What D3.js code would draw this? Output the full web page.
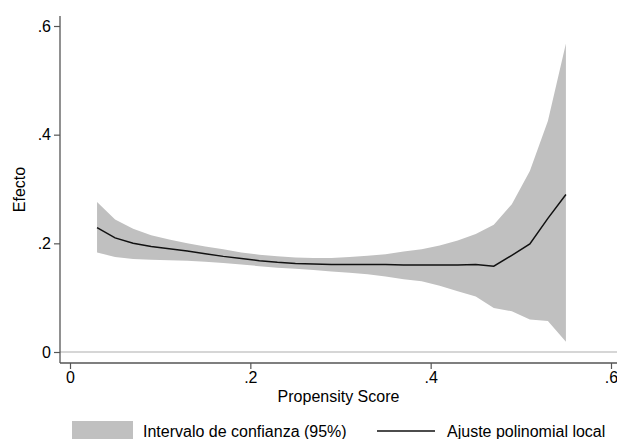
<!DOCTYPE html>
<html>
<head>
<meta charset="utf-8">
<script src="https://cdn.jsdelivr.net/npm/d3@7"></script>
<style>
  body { margin: 0; background: #fff; }
  text { font-family: "Liberation Sans", Arial, sans-serif; fill: #000; }
</style>
</head>
<body>
<svg width="617" height="439"></svg>
<script>
// data
var score = [0.03, 0.05, 0.07, 0.09, 0.11, 0.13, 0.15, 0.17, 0.19, 0.21, 0.23, 0.25, 0.27, 0.29,
             0.31, 0.33, 0.35, 0.37, 0.39, 0.41, 0.43, 0.45, 0.47, 0.49, 0.51, 0.53, 0.55];
var fit = [0.229, 0.210, 0.200, 0.194, 0.190, 0.186, 0.181, 0.176, 0.172, 0.168, 0.165, 0.163, 0.162, 0.161,
           0.161, 0.161, 0.161, 0.160, 0.160, 0.160, 0.160, 0.161, 0.158, 0.178, 0.199, 0.246, 0.290];
var upper = [0.276, 0.244, 0.227, 0.215, 0.207, 0.200, 0.194, 0.189, 0.183, 0.179, 0.176, 0.174, 0.173, 0.173,
             0.175, 0.177, 0.180, 0.185, 0.189, 0.196, 0.205, 0.217, 0.234, 0.272, 0.333, 0.425, 0.568];
var lower = [0.183, 0.175, 0.171, 0.170, 0.169, 0.168, 0.166, 0.164, 0.161, 0.158, 0.155, 0.153, 0.151, 0.148,
             0.146, 0.143, 0.139, 0.134, 0.130, 0.122, 0.112, 0.102, 0.081, 0.075, 0.060, 0.057, 0.019];
var xTicks = [0, 0.2, 0.4, 0.6];
var yTicks = [0, 0.2, 0.4, 0.6];
var legendLabels = ["Intervalo de confianza (95%)", "Ajuste polinomial local"];

var svg = d3.select("svg");

var x = d3.scaleLinear().domain([0, 0.6]).range([70, 611]);
var y = d3.scaleLinear().domain([0, 0.6]).range([352, 26]);

// plot region edges (don't use "top", it is window.top)
var pLeft = 60, pRight = 617, pTop = 16, pBottom = 363;

var fmt = function (d) { return d === 0 ? "0" : d3.format(".1f")(d).replace(/^0/, ""); };

var rows = score.map(function (s, i) {
    return { s: s, f: fit[i], hi: upper[i], lo: lower[i] };
});

// y = 0 reference line
svg.append("line")
    .attr("x1", pLeft).attr("x2", pRight)
    .attr("y1", y(0)).attr("y2", y(0))
    .attr("stroke", "#c8c8c8")
    .attr("stroke-width", 1.3);

// confidence band
var area = d3.area()
    .x(d => x(d.s))
    .y0(d => y(d.lo))
    .y1(d => y(d.hi));
svg.append("path")
    .datum(rows)
    .attr("d", area)
    .attr("fill", "#c0c0c0");

// local polynomial fit
var line = d3.line()
    .x(d => x(d.s))
    .y(d => y(d.f));
svg.append("path")
    .datum(rows)
    .attr("d", line)
    .attr("fill", "none")
    .attr("stroke", "#111")
    .attr("stroke-width", 1.5);

// axes
var yAxis = svg.append("g")
    .attr("transform", "translate(" + pLeft + ",0)")
    .call(d3.axisLeft(y).tickValues(yTicks).tickFormat(fmt).tickSize(6).tickPadding(3));
var xAxis = svg.append("g")
    .attr("transform", "translate(0," + pBottom + ")")
    .call(d3.axisBottom(x).tickValues(xTicks).tickFormat(fmt).tickSize(6).tickPadding(3));

[xAxis, yAxis].forEach(function (g) {
    g.select(".domain").remove();
    g.selectAll(".tick line").attr("stroke", "#555").attr("stroke-width", 1.2);
    g.selectAll(".tick text").attr("font-size", 16).style("font-family", "Liberation Sans, Arial, sans-serif").attr("fill", "#000");
});

svg.append("line")
    .attr("x1", pLeft).attr("x2", pLeft)
    .attr("y1", pTop).attr("y2", pBottom)
    .attr("stroke", "#555").attr("stroke-width", 1.3);
svg.append("line")
    .attr("x1", pLeft).attr("x2", pRight)
    .attr("y1", pBottom).attr("y2", pBottom)
    .attr("stroke", "#555").attr("stroke-width", 1.3);

// axis titles
svg.append("text")
    .attr("x", (pLeft + pRight) / 2)
    .attr("y", 402)
    .attr("text-anchor", "middle")
    .attr("font-size", 16)
    .text("Propensity Score");

svg.append("text")
    .attr("transform", "translate(25," + ((pTop + pBottom) / 2) + ") rotate(-90)")
    .attr("text-anchor", "middle")
    .attr("font-size", 16)
    .text("Efecto");

// legend
svg.append("rect")
    .attr("x", 72).attr("y", 421)
    .attr("width", 61).attr("height", 20)
    .attr("fill", "#c0c0c0");
svg.append("text")
    .attr("x", 143).attr("y", 437)
    .attr("font-size", 16)
    .text(legendLabels[0]);
svg.append("line")
    .attr("x1", 377).attr("x2", 435)
    .attr("y1", 431).attr("y2", 431)
    .attr("stroke", "#111").attr("stroke-width", 1.5);
svg.append("text")
    .attr("x", 447).attr("y", 437)
    .attr("font-size", 16)
    .text(legendLabels[1]);
</script>
</body>
</html>
